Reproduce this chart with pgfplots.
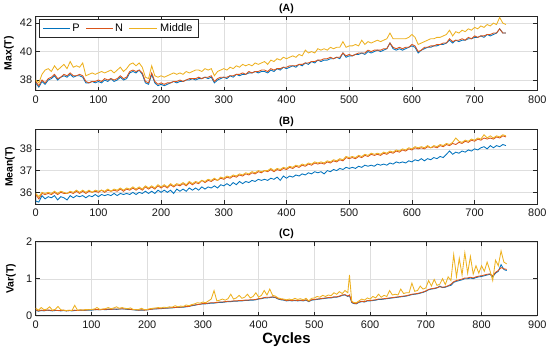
\documentclass[border=0pt]{standalone}
\usepackage{pgfplots}
\pgfplotsset{compat=1.18}
\usepackage{pgfplotstable}
\usepackage{fontspec}
\setmainfont{Liberation Sans}
\definecolor{cP}{rgb}{0,0.447,0.741}
\definecolor{cN}{rgb}{0.85,0.325,0.098}
\definecolor{cM}{rgb}{0.929,0.694,0.125}

\pgfplotstableread{
x P N M
0 37.8 37.9 38.0
5 37.5 37.6 37.8
10 37.9 38.0 38.4
15 37.7 37.8 38.7
20 38.0 38.1 38.8
25 38.1 38.2 38.6
30 38.3 38.4 39.0
35 38.0 38.1 38.7
40 38.2 38.2 38.9
45 38.3 38.4 39.1
50 38.2 38.3 38.8
55 38.4 38.5 39.3
60 38.2 38.3 38.9
65 38.3 38.3 39.0
70 38.3 38.4 38.9
75 38.2 38.3 39.2
80 37.8 37.9 38.3
85 37.8 37.8 38.4
90 37.9 37.9 38.5
95 37.8 37.9 38.4
100 37.9 38.0 38.5
105 37.8 37.9 38.6
110 38.0 38.1 38.5
115 37.9 38.0 38.6
120 38.1 38.1 38.7
125 37.9 38.0 38.5
130 38.0 38.1 38.7
135 38.2 38.3 38.9
140 38.0 38.1 38.6
145 38.1 38.2 38.8
150 38.5 38.6 39.1
155 38.6 38.7 39.2
160 38.5 38.6 39.0
165 38.7 38.7 39.2
170 38.4 38.5 38.9
175 37.8 37.9 38.2
180 37.7 37.8 38.1
185 38.4 38.5 39.0
190 37.8 37.9 38.3
195 37.6 37.7 38.2
200 37.7 37.8 38.3
205 37.6 37.7 38.2
210 37.7 37.8 38.3
215 37.8 37.8 38.4
220 37.9 37.9 38.5
225 37.8 37.9 38.4
230 37.9 38.0 38.5
235 37.9 37.9 38.4
240 38.0 38.0 38.6
245 38.0 38.1 38.5
250 38.1 38.1 38.6
255 38.0 38.1 38.7
260 38.1 38.2 38.7
265 38.1 38.1 38.6
270 38.2 38.2 38.8
275 38.1 38.2 38.7
280 38.2 38.3 38.8
285 37.8 37.9 38.3
290 38.0 38.1 38.6
295 38.1 38.2 38.7
300 38.2 38.2 38.8
305 38.1 38.2 38.7
310 38.3 38.3 38.9
315 38.2 38.3 38.8
320 38.4 38.4 39.0
325 38.3 38.4 38.9
330 38.4 38.5 39.1
335 38.4 38.4 39.0
340 38.5 38.6 39.1
345 38.5 38.5 39.0
350 38.6 38.6 39.2
355 38.5 38.6 39.1
360 38.6 38.7 39.2
365 38.6 38.7 39.3
370 38.5 38.6 39.1
375 38.7 38.8 39.4
380 38.6 38.7 39.3
385 38.8 38.8 39.5
390 38.7 38.8 39.4
395 38.9 38.9 39.6
400 38.8 38.9 39.5
405 38.9 39.0 39.6
410 39.0 39.0 39.7
415 38.9 39.0 39.6
420 39.1 39.1 39.8
425 39.0 39.1 39.7
430 39.2 39.2 40.1
435 39.1 39.2 39.9
440 39.3 39.3 40.0
445 39.2 39.3 39.9
450 39.4 39.4 40.2
455 39.3 39.4 40.1
460 39.4 39.5 40.2
465 39.4 39.5 40.1
470 39.5 39.6 40.3
475 39.5 39.5 40.2
480 39.6 39.6 40.3
485 39.5 39.6 40.3
490 39.9 39.9 40.7
495 39.6 39.7 40.3
500 39.7 39.8 40.4
505 39.7 39.7 40.4
510 39.8 39.8 40.5
515 39.8 39.9 40.4
520 39.9 39.9 40.8
525 39.8 39.9 40.5
530 40.0 40.1 40.7
535 39.9 40.0 40.6
540 40.0 40.1 40.7
545 40.1 40.1 40.8
550 40.0 40.1 40.7
555 40.1 40.2 40.8
560 40.2 40.2 40.9
565 40.6 40.6 41.3
570 40.2 40.3 40.9
575 40.1 40.2 40.9
580 40.2 40.3 40.9
585 40.1 40.2 40.9
590 40.2 40.3 40.9
595 40.3 40.3 41.0
600 40.4 40.5 41.2
605 40.3 40.4 41.0
610 39.9 40.0 40.5
615 40.1 40.1 40.6
620 40.2 40.3 40.7
625 40.3 40.3 40.8
630 40.3 40.4 40.9
635 40.4 40.4 40.9
640 40.4 40.5 41.0
645 40.5 40.5 41.0
650 40.5 40.6 41.1
655 40.6 40.6 41.2
660 40.8 40.9 41.5
665 40.6 40.7 41.1
670 40.8 40.8 41.4
675 40.7 40.8 41.3
680 40.8 40.9 41.5
685 40.8 40.8 41.4
690 40.9 41.0 41.6
695 40.9 40.9 41.5
700 41.0 41.1 41.7
705 41.0 41.0 41.6
710 41.1 41.1 41.8
715 41.0 41.1 41.7
720 41.2 41.2 41.9
725 41.1 41.2 41.8
730 41.2 41.3 42.0
735 41.3 41.3 41.9
740 41.6 41.6 42.4
745 41.3 41.3 42.0
750 41.3 41.3 41.9
}\tA

\pgfplotstableread{
x P N M
0 35.60 35.90 35.95
5 35.55 35.70 35.80
10 35.85 35.95 36.00
15 35.70 35.90 35.95
20 35.80 35.95 36.00
25 35.75 35.90 35.95
30 35.85 36.00 36.05
35 35.65 35.90 35.95
40 35.80 36.00 36.05
45 35.75 35.95 36.00
50 35.65 35.95 35.95
55 35.85 36.00 36.05
60 35.75 35.95 36.00
65 35.85 36.05 36.10
70 35.80 35.95 36.00
75 35.85 36.05 36.10
80 35.75 35.95 36.00
85 35.85 36.05 36.10
90 35.80 36.00 36.00
95 35.90 36.05 36.10
100 35.80 36.00 36.05
105 35.90 36.10 36.10
110 35.85 36.00 36.05
115 35.90 36.10 36.15
120 35.85 36.05 36.05
125 35.95 36.10 36.15
130 35.85 36.05 36.10
135 35.95 36.15 36.20
140 35.90 36.05 36.10
145 35.95 36.15 36.20
150 35.90 36.10 36.15
155 36.00 36.20 36.25
160 35.90 36.10 36.15
165 36.00 36.20 36.25
170 35.95 36.10 36.15
175 36.05 36.25 36.30
180 35.95 36.15 36.20
185 36.05 36.25 36.30
190 35.95 36.15 36.20
195 36.10 36.30 36.35
200 36.00 36.20 36.25
205 36.10 36.30 36.35
210 36.00 36.20 36.25
215 36.10 36.35 36.40
220 35.95 36.25 36.30
225 36.15 36.35 36.40
230 36.05 36.30 36.35
235 36.15 36.40 36.45
240 36.05 36.30 36.35
245 36.20 36.45 36.50
250 36.10 36.35 36.40
255 36.20 36.45 36.50
260 36.10 36.40 36.45
265 36.25 36.55 36.55
270 36.15 36.45 36.50
275 36.25 36.55 36.60
280 36.20 36.50 36.55
285 36.30 36.60 36.65
290 36.20 36.55 36.55
295 36.35 36.65 36.70
300 36.30 36.60 36.65
305 36.40 36.70 36.75
310 36.30 36.65 36.70
315 36.45 36.75 36.80
320 36.35 36.70 36.75
325 36.50 36.80 36.85
330 36.40 36.75 36.80
335 36.50 36.85 36.90
340 36.45 36.80 36.85
345 36.55 36.90 36.95
350 36.50 36.85 36.90
355 36.60 36.95 37.00
360 36.55 36.90 36.95
365 36.60 37.00 37.00
370 36.55 36.95 37.00
375 36.65 37.05 37.10
380 36.60 36.95 37.00
385 36.70 37.05 37.10
390 36.55 37.00 37.05
395 36.75 37.10 37.15
400 36.65 37.05 37.10
405 36.75 37.15 37.20
410 36.70 37.10 37.15
415 36.80 37.20 37.25
420 36.75 37.15 37.20
425 36.85 37.25 37.30
430 36.80 37.20 37.25
435 36.90 37.30 37.35
440 36.85 37.25 37.30
445 36.95 37.35 37.40
450 36.90 37.30 37.35
455 36.95 37.35 37.40
460 36.85 37.30 37.35
465 37.00 37.40 37.45
470 36.95 37.35 37.40
475 37.05 37.45 37.50
480 37.00 37.40 37.45
485 37.10 37.50 37.55
490 37.05 37.45 37.50
495 37.15 37.60 37.65
500 37.10 37.55 37.60
505 37.15 37.60 37.65
510 37.10 37.55 37.60
515 37.20 37.65 37.70
520 37.15 37.60 37.65
525 37.25 37.70 37.75
530 37.20 37.65 37.70
535 37.25 37.75 37.80
540 37.20 37.70 37.75
545 37.30 37.75 37.80
550 37.25 37.70 37.75
555 37.30 37.80 37.85
560 37.25 37.75 37.80
565 37.35 37.85 37.90
570 37.30 37.80 37.85
575 37.40 37.90 37.95
580 37.35 37.85 37.90
585 37.40 37.95 38.00
590 37.35 37.90 37.95
595 37.45 38.00 38.05
600 37.40 37.95 38.00
605 37.50 38.05 38.10
610 37.45 38.00 38.05
615 37.55 38.05 38.10
620 37.45 38.00 38.05
625 37.55 38.10 38.15
630 37.50 38.05 38.05
635 37.60 38.10 38.15
640 37.55 38.05 38.10
645 37.65 38.15 38.20
650 37.60 38.10 38.15
655 37.75 38.20 38.25
660 37.90 38.15 38.20
665 37.75 38.25 38.30
670 37.85 38.20 38.50
675 37.80 38.30 38.35
680 37.90 38.25 38.30
685 37.85 38.35 38.40
690 37.95 38.30 38.35
695 37.90 38.40 38.45
700 38.00 38.35 38.40
705 37.95 38.45 38.50
710 38.05 38.40 38.45
715 38.10 38.50 38.65
720 38.00 38.45 38.50
725 38.15 38.50 38.60
730 38.05 38.45 38.50
735 38.15 38.55 38.60
740 38.10 38.50 38.55
745 38.20 38.60 38.65
750 38.15 38.55 38.60
}\tB

\pgfplotstableread{
x P N M
0 0.15 0.16 0.20
5 0.12 0.13 0.15
10 0.14 0.15 0.22
15 0.13 0.14 0.16
20 0.15 0.15 0.18
25 0.14 0.15 0.24
30 0.13 0.14 0.15
35 0.14 0.15 0.17
40 0.14 0.14 0.25
45 0.13 0.14 0.16
50 0.14 0.15 0.15
55 0.13 0.13 0.14
60 0.14 0.14 0.15
65 0.13 0.14 0.14
70 0.14 0.15 0.28
75 0.14 0.14 0.15
80 0.15 0.15 0.16
85 0.14 0.15 0.15
90 0.15 0.15 0.17
95 0.15 0.16 0.16
100 0.15 0.16 0.17
105 0.16 0.16 0.18
110 0.16 0.17 0.22
115 0.16 0.16 0.17
120 0.17 0.17 0.18
125 0.16 0.17 0.19
130 0.17 0.18 0.22
135 0.17 0.17 0.19
140 0.18 0.18 0.21
145 0.17 0.18 0.24
150 0.18 0.18 0.20
155 0.18 0.19 0.22
160 0.18 0.18 0.20
165 0.17 0.18 0.19
170 0.17 0.17 0.21
175 0.16 0.16 0.17
180 0.15 0.16 0.16
185 0.15 0.15 0.17
190 0.15 0.16 0.20
195 0.15 0.15 0.16
200 0.16 0.16 0.17
205 0.17 0.17 0.19
210 0.18 0.18 0.20
215 0.18 0.19 0.21
220 0.19 0.19 0.22
225 0.19 0.20 0.21
230 0.20 0.20 0.23
235 0.20 0.21 0.22
240 0.21 0.21 0.24
245 0.21 0.22 0.23
250 0.22 0.22 0.27
255 0.22 0.23 0.24
260 0.23 0.23 0.26
265 0.23 0.24 0.25
270 0.24 0.25 0.29
275 0.25 0.25 0.27
280 0.27 0.28 0.30
285 0.28 0.29 0.32
290 0.30 0.30 0.35
295 0.31 0.31 0.34
300 0.32 0.33 0.37
305 0.32 0.33 0.35
310 0.33 0.34 0.40
315 0.34 0.35 0.45
320 0.34 0.35 0.68
325 0.35 0.36 0.40
330 0.36 0.37 0.42
335 0.36 0.37 0.45
340 0.37 0.38 0.42
345 0.38 0.39 0.46
350 0.38 0.39 0.58
355 0.39 0.40 0.45
360 0.39 0.40 0.48
365 0.40 0.41 0.55
370 0.40 0.41 0.47
375 0.41 0.42 0.50
380 0.41 0.42 0.58
385 0.42 0.43 0.48
390 0.42 0.43 0.52
395 0.43 0.44 0.62
400 0.45 0.46 0.50
405 0.46 0.47 0.55
410 0.48 0.49 0.68
415 0.48 0.50 0.56
420 0.49 0.50 0.72
425 0.50 0.51 0.55
430 0.49 0.50 0.53
435 0.45 0.46 0.48
440 0.43 0.44 0.46
445 0.42 0.43 0.45
450 0.40 0.41 0.43
455 0.41 0.42 0.45
460 0.40 0.41 0.43
465 0.41 0.42 0.47
470 0.40 0.41 0.44
475 0.41 0.42 0.46
480 0.40 0.41 0.43
485 0.42 0.43 0.47
490 0.38 0.39 0.40
495 0.42 0.43 0.47
500 0.43 0.44 0.48
505 0.44 0.45 0.52
510 0.45 0.46 0.50
515 0.46 0.47 0.55
520 0.47 0.48 0.52
525 0.48 0.49 0.56
530 0.48 0.49 0.54
535 0.50 0.51 0.62
540 0.50 0.51 0.58
545 0.52 0.53 0.65
550 0.55 0.56 0.60
555 0.56 0.57 0.68
560 0.52 0.53 0.62
563 0.55 0.56 1.10
567 0.36 0.37 0.40
570 0.33 0.34 0.36
575 0.32 0.33 0.35
580 0.36 0.37 0.40
585 0.38 0.39 0.45
590 0.37 0.38 0.42
595 0.40 0.41 0.48
600 0.40 0.41 0.45
605 0.41 0.42 0.52
610 0.42 0.43 0.48
615 0.44 0.45 0.58
620 0.44 0.45 0.50
625 0.45 0.46 0.55
630 0.46 0.47 0.52
635 0.47 0.48 0.68
640 0.48 0.49 0.56
645 0.49 0.50 0.58
650 0.50 0.51 0.56
655 0.51 0.52 0.72
660 0.52 0.53 0.60
665 0.53 0.54 0.62
670 0.55 0.56 0.62
675 0.57 0.58 0.88
680 0.58 0.59 0.66
685 0.59 0.60 0.68
690 0.61 0.62 0.80
695 0.63 0.64 0.72
700 0.66 0.67 0.75
705 0.70 0.71 0.95
710 0.72 0.73 0.80
715 0.73 0.74 0.98
720 0.75 0.76 0.82
725 0.80 0.78 0.85
730 0.76 0.77 1.00
735 0.77 0.78 0.84
740 0.80 0.81 1.05
745 0.82 0.85 0.95
750 0.90 0.92 1.65
755 0.93 0.95 1.05
760 0.95 0.97 1.55
765 0.97 0.99 1.10
770 1.00 1.02 1.70
775 1.00 1.02 1.15
780 1.02 1.04 1.60
785 1.00 1.02 1.12
790 1.03 1.05 1.35
795 1.05 1.07 1.15
800 1.06 1.08 1.35
805 1.08 1.10 1.20
810 1.10 1.12 1.45
815 1.12 1.13 1.22
820 1.05 1.08 0.95
825 1.15 1.17 1.50
830 1.20 1.22 1.35
835 1.38 1.30 1.75
840 1.25 1.27 1.45
845 1.22 1.25 1.40
}\tC

\pgfplotsset{
  every axis title shift=0pt,
  myax/.style={
    scale only axis, width=501.6bp,
    xmin=0, xmax=800, xtick={0,100,...,800},
    grid=major, grid style={black!13, line width=0.4pt},
    tick align=inside, major tick length=4bp,
    axis line style={black!85, line width=0.5pt},
    every tick/.style={black!85, line width=0.5pt},
    /pgf/number format/assume math mode=true,
    ticklabel style={font=\fontsize{11}{13}\selectfont, text=black!90},
    x tick label style={yshift=-1.5bp},
    title style={font=\bfseries\fontsize{10.5}{12}\selectfont, at={(0.5,1)}, anchor=south, inner sep=1bp, yshift=1.5bp},
    ylabel style={font=\bfseries\fontsize{10.5}{12}\selectfont, anchor=center},
    every axis plot/.append style={line width=0.85pt},
  }
}

\begin{document}
\begin{tikzpicture}
\useasboundingbox (-35.7bp,0) rectangle (514.3bp,-356bp);

\begin{axis}[myax, at={(0,-16bp)}, anchor=north west, height=74.7bp,
  ymin=37.25, ymax=42.5, ytick={38,40,42},
  title={(A)}, ylabel={Max(T)},
  ylabel style={at={([xshift=-26.7bp]axis description cs:0,0.5)}},
]
\addplot[color=cP] table[x=x, y=P] {\tA};
\addplot[color=cN] table[x=x, y=N] {\tA};
\addplot[color=cM] table[x=x, y=M] {\tA};
% legend box
\draw[black!85, line width=0.5pt, fill=white] (axis description cs:0.0066,0.96) rectangle (axis description cs:0.3236,0.719);
\draw[cP, line width=1pt] (axis description cs:0.0146,0.839) -- (axis description cs:0.0684,0.839);
\node[anchor=west, inner sep=0pt, font=\fontsize{11}{13}\selectfont] at (axis description cs:0.0725,0.839) {P};
\draw[cN, line width=1pt] (axis description cs:0.1003,0.839) -- (axis description cs:0.1541,0.839);
\node[anchor=west, inner sep=0pt, font=\fontsize{11}{13}\selectfont] at (axis description cs:0.1580,0.839) {N};
\draw[cM, line width=1pt] (axis description cs:0.1860,0.839) -- (axis description cs:0.2418,0.839);
\node[anchor=west, inner sep=0pt, font=\fontsize{11}{13}\selectfont] at (axis description cs:0.2478,0.839) {Middle};
\end{axis}

\begin{axis}[myax, at={(0,-129.3bp)}, anchor=north west, height=75bp,
  ymin=35.45, ymax=38.9, ytick={36,37,38},
  title={(B)}, ylabel={Mean(T)},
  ylabel style={at={([xshift=-25.7bp]axis description cs:0,0.5)}},
]
\addplot[color=cP] table[x=x, y=P] {\tB};
\addplot[color=cN] table[x=x, y=N] {\tB};
\addplot[color=cM] table[x=x, y=M] {\tB};
\end{axis}

\begin{axis}[myax, at={(0,-241.7bp)}, anchor=north west, height=74bp,
  xmax=900, xtick={0,100,...,900},
  ymin=0, ymax=2, ytick={0,1,2},
  title={(C)}, ylabel={Var(T)},
  ylabel style={at={([xshift=-24.7bp]axis description cs:0,0.5)}},
  xlabel={Cycles},
  xlabel style={font=\bfseries\fontsize{15}{17}\selectfont, at={([yshift=-24bp]axis description cs:0.5,0)}, anchor=center},
]
\addplot[color=cP] table[x=x, y=P] {\tC};
\addplot[color=cN] table[x=x, y=N] {\tC};
\addplot[color=cM] table[x=x, y=M] {\tC};
\end{axis}
\end{tikzpicture}
\end{document}
